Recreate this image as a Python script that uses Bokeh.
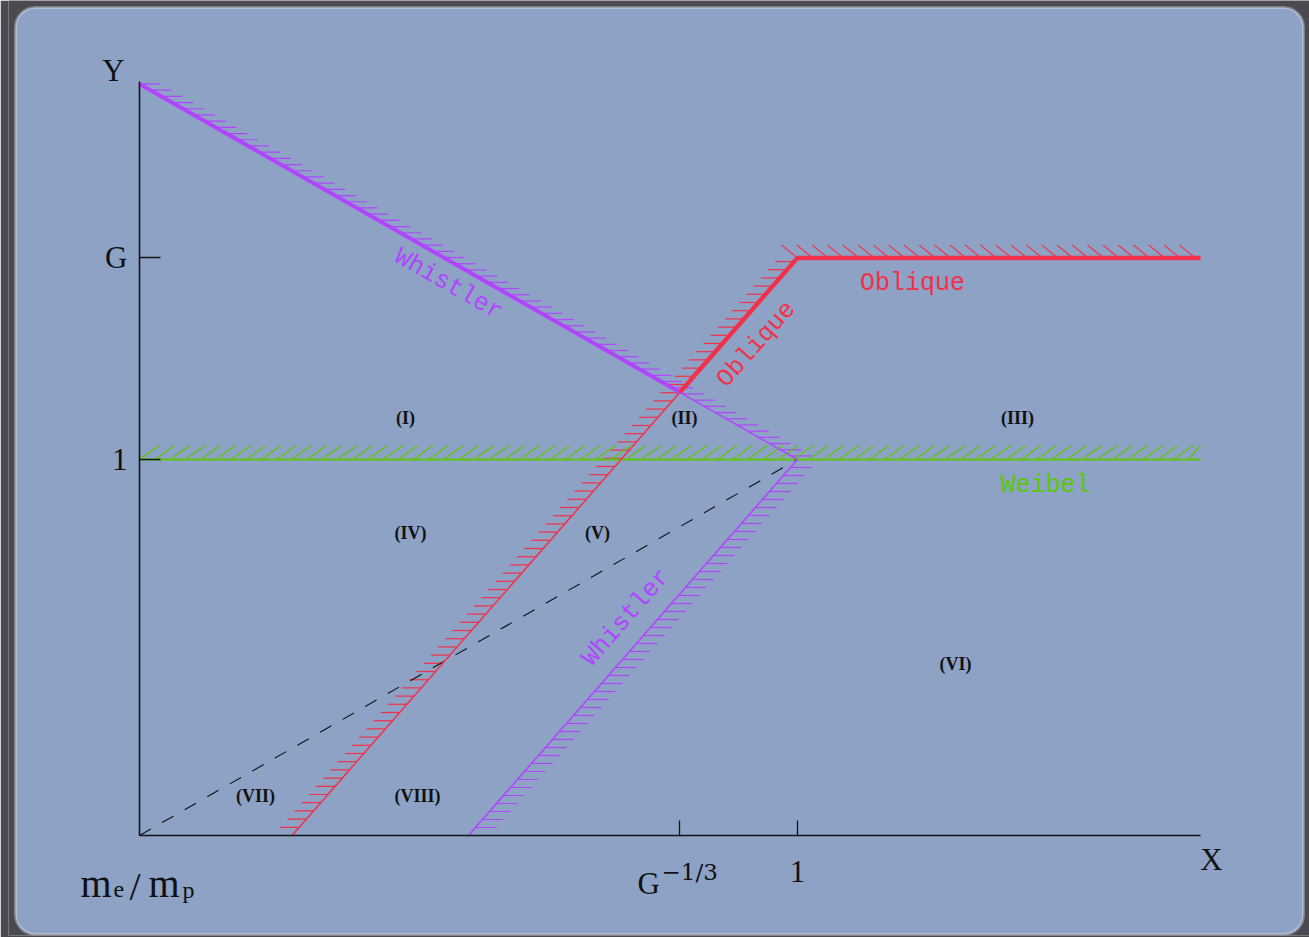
from bokeh.plotting import figure
from bokeh.models import Range1d, FixedTicker, BoxAnnotation
from bokeh.core.properties import value
from bokeh.embed import file_html
from bokeh.resources import INLINE

# ---- data (log10 units) ----
ME_MP = -3.264          # log10(me/mp): axis origin
G13 = -0.583            # log10(G^-1/3)
LOG_G = 1.75            # log10(G)
X_END = 2.0             # end of X axis
Y_TOP = 3.281           # end of Y axis

whistler_up_x = [-3.264, -0.583]
whistler_up_y = [3.26, 0.583]
whistler_thin_x = [-0.583, 0.0]
whistler_thin_y = [0.583, 0.0]
oblique_x = [-0.583, 0.0, 2.0]
oblique_y = [0.583, 1.75, 1.75]
oblique_thin_x = [-2.507, -0.583]
oblique_thin_y = [-3.264, 0.583]
whistler_low_x = [-1.632, 0.0]
whistler_low_y = [-3.264, 0.0]
weibel_x = [-3.264, 2.0]
weibel_y = [0.0, 0.0]
dashed_x = [-3.264, 0.0]
dashed_y = [-3.264, 0.0]

region_labels = ["(I)", "(II)", "(III)", "(IV)", "(V)", "(VI)", "(VII)", "(VIII)"]
region_x = [-1.944, -0.560, 1.092, -1.919, -0.992, 0.784, -2.688, -1.885]
region_y = [0.356, 0.356, 0.356, -0.642, -0.642, -1.771, -2.925, -2.925]

x_ticks = [G13, 0.0]
y_ticks = [0.0, LOG_G]
y_tick_labels = ["1", "G"]

# ---- style ----
BLUE = "#8da2c5"
DARK = "#4a4a50"
RED = "#f3304a"
PURPLE = "#b145ff"
GREEN = "#5cc60a"
INK = "#111111"
SERIF = "Liberation Serif"
MONO = "Liberation Mono"

W, H = 1309, 937
ML, MB = 8, 2
PX_X = 201.56   # pixels per decade along X
PX_Y = 115.2    # pixels per decade along Y
AX_LEFT, AX_BOTTOM = 139, 835   # page position of the axis origin
x_start = ME_MP - (AX_LEFT - ML) / PX_X
x_end = x_start + (W - ML) / PX_X
y_start = ME_MP - (H - MB - AX_BOTTOM) / PX_Y
y_end = y_start + (H - MB) / PX_Y

p = figure(width=W, height=H, x_range=Range1d(x_start, x_end), y_range=Range1d(y_start, y_end),
           output_backend="svg", toolbar_location=None, title=None,
           min_border_left=ML, min_border_right=0, min_border_top=0, min_border_bottom=MB)
p.background_fill_color = DARK
p.border_fill_color = DARK
p.outline_line_color = None
p.grid.visible = False


def px_x(px):
    return ME_MP + (px - AX_LEFT) / PX_X


def px_y(py):
    return ME_MP + (AX_BOTTOM - py) / PX_Y


# rounded slide panel
p.add_layout(BoxAnnotation(left=px_x(15), right=px_x(1303), top=px_y(7), bottom=px_y(934),
                           fill_color=BLUE, fill_alpha=1.0, line_color="white", line_width=3,
                           border_radius=20, level="underlay"))

# axes, fixed at the origin inside the panel
xa = p.xaxis[0]
xa.fixed_location = ME_MP
xa.bounds = (ME_MP, X_END)
xa.ticker = FixedTicker(ticks=x_ticks)
xa.major_label_overrides = {t: "" for t in x_ticks}
xa.major_label_text_font_size = "1px"
xa.major_label_standoff = 0
xa.major_tick_in = 15
xa.major_tick_out = 0
xa.minor_tick_line_color = None
xa.axis_line_width = 1.6
xa.axis_line_color = "#151515"
xa.major_tick_line_color = "#151515"
xa.major_tick_line_width = 1.3

ya = p.yaxis[0]
ya.fixed_location = ME_MP
ya.bounds = (ME_MP, Y_TOP)
ya.ticker = FixedTicker(ticks=y_ticks)
ya.major_label_overrides = {t: "" for t in y_ticks}
ya.major_label_text_font_size = "1px"
ya.major_label_standoff = 0
ya.major_tick_in = 21
ya.major_tick_out = 0
ya.minor_tick_line_color = None
ya.axis_line_width = 1.6
ya.axis_line_color = "#151515"
ya.major_tick_line_color = "#151515"
ya.major_tick_line_width = 1.3


def hatches(xs, ys, spacing, hx, hy, by="y"):
    """short hatch segments along a polyline; spacing/hx/hy in screen pixels"""
    x0s, y0s, x1s, y1s = [], [], [], []
    carry = 0.0
    for i in range(len(xs) - 1):
        ax, ay, bx, by_ = xs[i], ys[i], xs[i + 1], ys[i + 1]
        L = abs((by_ - ay) * PX_Y) if by == "y" else abs((bx - ax) * PX_X)
        d = carry
        while d <= L + 1e-9:
            t = d / L if L else 0
            x = ax + t * (bx - ax)
            y = ay + t * (by_ - ay)
            x0s.append(x); y0s.append(y)
            x1s.append(min(x + hx / PX_X, X_END)); y1s.append(y + hy / PX_Y)
            d += spacing
        carry = d - L
    return x0s, y0s, x1s, y1s


def draw_hatch(h, color, width=1.2):
    p.segment(h[0], h[1], h[2], h[3], line_color=color, line_width=width)


# hatches
draw_hatch(hatches(whistler_up_x + whistler_thin_x[1:], whistler_up_y + whistler_thin_y[1:], 6.2, 21, 0), PURPLE)
draw_hatch(hatches(oblique_thin_x + oblique_x[1:2], oblique_thin_y + oblique_y[1:2], 8.2, -19, 0), RED)
draw_hatch(hatches(oblique_x[1:], oblique_y[1:], 15.3, -16, 13, by="x"), RED)
draw_hatch(hatches(whistler_low_x, whistler_low_y, 8.0, 21, 0), PURPLE)
draw_hatch(hatches(weibel_x, weibel_y, 15.2, 20, 14, by="x"), GREEN)

# lines
p.line(dashed_x, dashed_y, line_color=INK, line_width=1.1, line_dash="13 13")
p.line(weibel_x, weibel_y, line_color=GREEN, line_width=2.2)
p.line(oblique_thin_x, oblique_thin_y, line_color=RED, line_width=1.5)
p.line(whistler_low_x, whistler_low_y, line_color=PURPLE, line_width=1.5)
p.line(whistler_thin_x, whistler_thin_y, line_color=PURPLE, line_width=1.5)
p.line(whistler_up_x, whistler_up_y, line_color=PURPLE, line_width=4)
p.line(oblique_x, oblique_y, line_color=RED, line_width=4.5)


def label(x, y, text, color, angle=0.0, size="25px", font=MONO, align="center", baseline="middle",
          style="normal"):
    p.text([x], [y], text=[text], angle=angle, text_color=color, text_font=value(font),
           text_font_size=size, text_align=align, text_baseline=baseline, text_font_style=style)


# curve labels
label(-1.731, 1.519, "Whistler", PURPLE, angle=-0.517)
label(-0.203, 0.998, "Oblique", RED, angle=0.847)
label(0.571, 1.528, "Oblique", RED)
label(1.231, -0.226, "Weibel", GREEN)
label(-0.848, -1.372, "Whistler", PURPLE, angle=0.852)

# region labels
p.text(region_x, region_y, text=region_labels, text_color=INK, text_font=value(SERIF),
       text_font_size="18px", text_font_style="bold", text_align="center", text_baseline="middle")

# axis names and tick labels
label(px_x(113), px_y(70), "Y", INK, size="31px", font=SERIF)
label(px_x(1211), px_y(859), "X", INK, size="31px", font=SERIF)
p.text([px_x(127)] * 2, y_ticks, text=y_tick_labels, text_color=INK, text_font=value(SERIF),
       text_font_size="31px", text_align="right", text_baseline="middle")
label(0.0, px_y(871), "1", INK, size="31px", font=SERIF)
# G^-1/3
label(px_x(637), px_y(883), "G", INK, size="31px", font=SERIF, align="left", baseline="alphabetic")
label(px_x(661), px_y(871), "\u22121/3", INK, size="23px", font="DejaVu Serif", align="left",
      baseline="alphabetic")
# m_e / m_p
for px, py, t, s in [(80, 883, "m", "40px"), (113, 889, "e", "24px"), (129, 886, "/", "40px"),
                     (148, 883, "m", "40px"), (182, 889, "p", "24px")]:
    label(px_x(px), px_y(py), t, INK, size=s, font=SERIF, align="left", baseline="alphabetic")

open("out.html", "w").write(file_html(p, INLINE))
